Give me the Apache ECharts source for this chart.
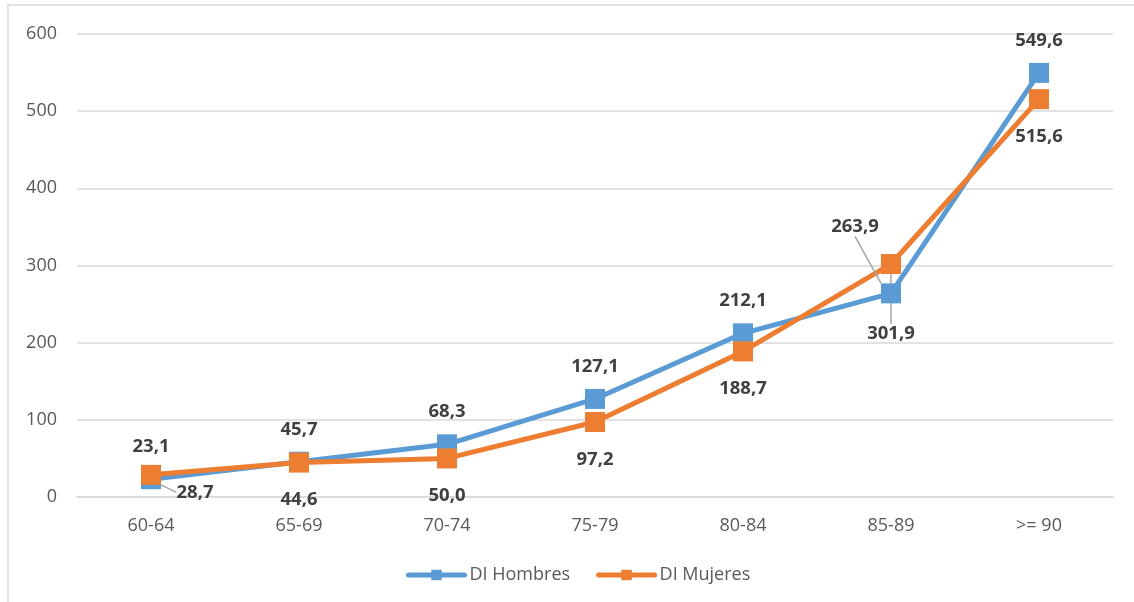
<!DOCTYPE html>
<html>
<head>
<meta charset="utf-8">
<script src="https://cdn.jsdelivr.net/npm/echarts@6/dist/echarts.min.js"></script>
<style>
  html, body { margin: 0; padding: 0; background: #ffffff; }
  #chart { width: 1134px; height: 602px; }
</style>
</head>
<body>
<div id="chart"></div>
<script>
// Age groups and rates per group
const categories = ['60-64', '65-69', '70-74', '75-79', '80-84', '85-89', '>= 90'];
const hombres = [23.1, 45.7, 68.3, 127.1, 212.1, 263.9, 549.6];
const mujeres = [28.7, 44.6, 50.0, 97.2, 188.7, 301.9, 515.6];
const yTicks = [0, 100, 200, 300, 400, 500, 600];

const FONT = '"Open Sans", "Noto Sans", sans-serif';
const fmt = v => v.toFixed(1).replace('.', ',');

// Labels that sit away from their marker, joined by a guide line
const moved = {
  'DI Hombres': { 5: { dx: -36, dy: -34 } },
  'DI Mujeres': { 0: { dx: 44, dy: -20 }, 5: { dx: 0, dy: 32 } }
};

function buildData(values, seriesName) {
  return values.map((v, i) => {
    const item = { value: v };
    if (moved[seriesName][i]) {
      item.labelLine = { show: true, lineStyle: { color: '#a6a6a6', width: 1.5 } };
    }
    return item;
  });
}

function makeSeries(name, values, color, pos, dist) {
  return {
    name: name,
    type: 'line',
    data: buildData(values, name),
    symbol: 'rect',
    symbolSize: 20,
    lineStyle: { color: color, width: 5 },
    itemStyle: { color: color },
    label: {
      show: true,
      position: pos,
      distance: dist,
      fontFamily: FONT,
      fontSize: 18.5,
      fontWeight: 'bold',
      color: '#404040',
      formatter: p => fmt(p.value)
    },
    labelLine: { show: false },
    labelLayout: p => {
      const m = moved[name][p.dataIndex];
      return m ? { dx: m.dx, dy: m.dy } : {};
    },
    emphasis: { disabled: true },
    animation: false
  };
}

const chart = echarts.init(document.getElementById('chart'));
chart.setOption({
  backgroundColor: '#ffffff',
  animation: false,
  graphic: [{
    type: 'rect',
    shape: { x: 8, y: 5, width: 1200, height: 700 },
    style: { fill: 'none', stroke: '#d9d9d9', lineWidth: 1.5 },
    silent: true,
    z: -10
  }],
  grid: { left: 77, right: 21, top: 34, bottom: 105, containLabel: false },
  legend: {
    bottom: 13,
    left: 401,
    itemWidth: 56,
    itemHeight: 13,
    itemGap: 26,
    lineStyle: { width: 5, cap: 'round' },
    textStyle: { fontFamily: FONT, fontSize: 18, color: '#595959' },
    data: ['DI Hombres', 'DI Mujeres']
  },
  xAxis: {
    type: 'category',
    data: categories,
    boundaryGap: true,
    axisLine: { show: true, lineStyle: { color: '#d9d9d9', width: 1.5 } },
    axisTick: { show: false },
    axisLabel: { fontFamily: FONT, fontSize: 18, color: '#595959', margin: 20 }
  },
  yAxis: {
    type: 'value',
    min: yTicks[0],
    max: yTicks[yTicks.length - 1],
    interval: 100,
    axisLine: { show: false },
    axisTick: { show: false },
    splitLine: { lineStyle: { color: '#d9d9d9', width: 1.5 } },
    axisLabel: { fontFamily: FONT, fontSize: 18, color: '#595959', margin: 20 }
  },
  series: [
    makeSeries('DI Hombres', hombres, '#5b9bd5', 'top', 13),
    makeSeries('DI Mujeres', mujeres, '#ed7d31', 'bottom', 18)
  ]
});
</script>
</body>
</html>
